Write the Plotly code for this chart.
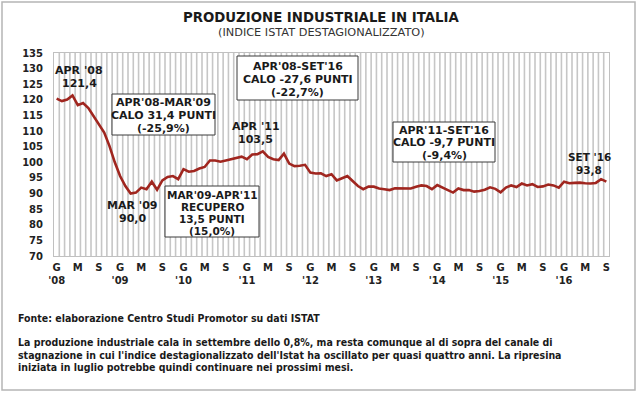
import plotly.graph_objects as go

# ---------------- data ----------------
years = ["'08", "'09", "'10", "'11", "'12", "'13", "'14", "'15", "'16"]
month_letters = ["G", "M", "S"]  # Gennaio, Maggio, Settembre (every 4 months)

v2008 = [120.4, 119.6, 120.1, 121.4, 118.3, 119.0, 117.4, 114.8, 112.1, 109.5, 105.2, 100.0]
v2009 = [95.6, 92.4, 90.0, 90.3, 91.9, 91.4, 93.8, 91.2, 94.2, 95.3, 95.6, 94.6]
v2010 = [97.8, 97.0, 97.2, 98.0, 98.5, 100.6, 100.6, 100.2, 100.6, 101.0, 101.3, 101.8]
v2011 = [101.0, 102.5, 102.6, 103.5, 101.7, 101.0, 100.7, 102.8, 99.6, 98.8, 98.9, 99.2]
v2012 = [96.7, 96.4, 96.5, 95.6, 96.2, 94.2, 94.9, 95.6, 94.0, 92.4, 91.4, 92.2]
v2013 = [92.2, 91.6, 91.4, 91.1, 91.7, 91.7, 91.7, 91.6, 92.2, 92.6, 92.4, 91.4]
v2014 = [92.7, 91.9, 91.1, 90.3, 91.6, 91.1, 91.1, 90.6, 90.8, 91.2, 92.0, 91.5]
v2015 = [90.4, 91.9, 92.6, 92.1, 93.2, 92.6, 93.0, 92.1, 92.3, 92.9, 92.6, 91.9]
v2016 = [93.8, 93.3, 93.4, 93.5, 93.3, 93.2, 93.4, 94.6, 93.8]

values = v2008 + v2009 + v2010 + v2011 + v2012 + v2013 + v2014 + v2015 + v2016
month_index = list(range(len(values)))

tick_positions = list(range(0, len(values), 4))
tick_labels = []
for i in tick_positions:
    letter = month_letters[(i % 12) // 4]
    if i % 12 == 0:
        tick_labels.append(letter + "<br>" + years[i // 12])
    else:
        tick_labels.append(letter)
# monthly category boundaries (vertical grid)
grid_positions = [i - 0.5 for i in range(1, len(values))]

title_text = "PRODUZIONE INDUSTRIALE IN ITALIA"
subtitle_text = "(INDICE ISTAT DESTAGIONALIZZATO)"
source_text = "Fonte: elaborazione Centro Studi Promotor su dati ISTAT"
comment_lines = [
    "La produzione industriale cala in settembre dello 0,8%, ma resta comunque al di sopra del canale di",
    "stagnazione in cui l'indice destagionalizzato dell'Istat ha oscillato per quasi quattro anni. La ripresina",
    "iniziata in luglio potrebbe quindi continuare nei prossimi mesi.",
]

# annotation texts (line by line)
lbl_apr08 = ["APR '08", "121,4"]
lbl_apr11 = ["APR '11", "103,5"]
lbl_mar09 = ["MAR '09", "90,0"]
lbl_set16 = ["SET '16", "93,8"]
box_a = ["APR'08-MAR'09", "CALO 31,4 PUNTI", "(-25,9%)"]
box_b = ["APR'08-SET'16", "CALO -27,6 PUNTI", "(-22,7%)"]
box_c = ["MAR'09-APR'11", "RECUPERO", "13,5 PUNTI", "(15,0%)"]
box_d = ["APR'11-SET'16", "CALO -9,7 PUNTI", "(-9,4%)"]

# ---------------- layout geometry (pixels) ----------------
W, H = 639, 393
PL, PR, PT, PB = 54, 609, 53, 256
GRID = "#c6c6c6"


def px(x):
    return (x - PL) / (PR - PL)


def py(y):
    return (PB - y) / (PB - PT)


FONT = "DejaVu Sans"
COND = "DejaVu Sans Condensed"
TXT = "#1a1a1a"

fig = go.Figure()
fig.add_trace(go.Scatter(
    x=month_index, y=values, mode="lines",
    line=dict(color="#a0261f", width=2.6),
    hoverinfo="skip", showlegend=False,
))

annotations = []
shapes = []

# vertical monthly grid, placed through the axis scales (between grid layer and traces)
for g in grid_positions:
    shapes.append(dict(type="line", xref="x", yref="y", x0=g, x1=g, y0=70, y1=135,
                       line=dict(color=GRID, width=1.6), layer="between"))


def text_at(text, x, y, size=11, bold=True, family=FONT, xanchor="center", color=TXT):
    annotations.append(dict(
        text=text, x=px(x), y=py(y), xref="paper", yref="paper", showarrow=False,
        xanchor=xanchor, yanchor="middle", align="left" if xanchor == "left" else "center",
        font=dict(family=family, size=size, color=color, weight="bold" if bold else "normal"),
    ))


def lines_at(lines, x, ys, **kw):
    for t, y in zip(lines, ys):
        text_at(t, x, y, **kw)


def box(x0, x1, y0, y1):
    shapes.append(dict(type="rect", xref="paper", yref="paper",
                       x0=px(x0), x1=px(x1), y0=py(y0), y1=py(y1),
                       line=dict(color="#3a3a3a", width=1), fillcolor="white", layer="above"))


# titles
text_at(title_text, 321, 17, size=13.3)
text_at(subtitle_text, 321, 33, size=11.3, bold=False, color="#333")

# point labels
lines_at(lbl_apr08, 79, [70, 83])
lines_at(lbl_apr11, 255.5, [126.5, 139.5])
lines_at(lbl_mar09, 132, [205.5, 218.5])
lines_at(lbl_set16, 589, [157, 170], size=10.5)

# boxes
box(112, 215, 94, 135)
lines_at(box_a, 163.5, [102, 115, 128])
box(237, 358, 56, 100)
lines_at(box_b, 297.5, [66, 79.3, 92.7])
box(165, 259, 186, 237)
lines_at(box_c, 212, [194.5, 206.8, 219.1, 231.4], size=10.5)
box(393, 495, 122, 162)
lines_at(box_d, 444, [130, 142.7, 155])

# bottom text
text_at(source_text, 16, 318, size=10.5, family=COND, xanchor="left")
lines_at(comment_lines, 16, [342, 354.5, 367], size=10.5, family=COND, xanchor="left")

# outer frame
shapes.append(dict(type="rect", xref="paper", yref="paper",
                   x0=px(2), x1=px(635), y0=py(2), y1=py(390),
                   line=dict(color="#b5b5b5", width=1.5)))

fig.update_layout(
    width=W, height=H,
    margin=dict(l=PL, r=W - PR, t=PT, b=H - PB),
    paper_bgcolor="white", plot_bgcolor="rgba(0,0,0,0)",
    annotations=annotations, shapes=shapes,
    font=dict(family=FONT, color=TXT),
    xaxis=dict(
        range=[-0.5, len(values) - 0.5],
        tickmode="array", tickvals=tick_positions, ticktext=tick_labels,
        tickfont=dict(family=FONT, size=10, color="#222", weight="bold"),
        showgrid=False, zeroline=False,
        showline=True, linecolor="#c0c0c0", linewidth=1, mirror=True,
        ticks="", ticklabelstandoff=2,
    ),
    yaxis=dict(
        range=[70, 135], tickmode="linear", tick0=70, dtick=5,
        tickfont=dict(family=FONT, size=10, color="#222", weight="bold"),
        showgrid=False, zeroline=False,
        showline=True, linecolor="#c0c0c0", linewidth=1, mirror=True,
        ticks="", ticklabelstandoff=8,
    ),
)

fig.write_html("out.html", config={"displayModeBar": False},
               post_script="document.body.style.margin='0';")
